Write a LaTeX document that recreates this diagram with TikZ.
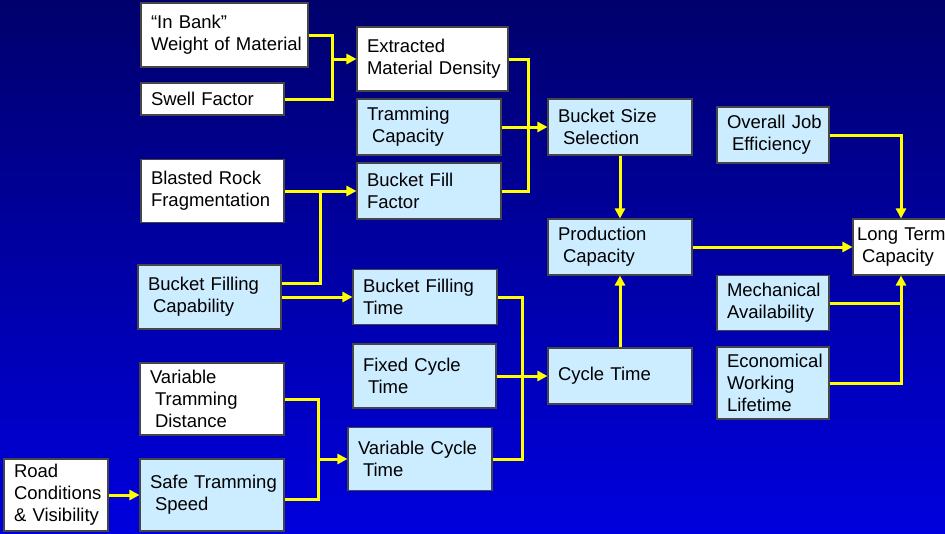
\documentclass[tikz,border=0pt]{standalone}
\usepackage{fontspec}
\setmainfont{Liberation Sans}
\usepackage{xcolor}
\usetikzlibrary{arrows.meta}

\definecolor{bgtop}{RGB}{0,0,108}
\definecolor{bgbottom}{RGB}{0,0,222}
\definecolor{paleblue}{RGB}{204,236,255}
\definecolor{linkyellow}{RGB}{255,255,0}
\definecolor{boxline}{RGB}{70,70,70}
\newcommand{\indt}{\hspace*{5pt}}
\hyphenpenalty=10000
\exhyphenpenalty=10000

\begin{document}
\begin{tikzpicture}[x=1pt, y=-1pt, >={Triangle[length=10pt,width=10pt]},
    box/.style={draw=boxline, line width=1.1pt, rectangle, inner xsep=10pt, inner ysep=0pt, align=left, font=\fontsize{18.5}{22}\selectfont},
    given/.style={box, fill=white},
    factor/.style={box, fill=paleblue},
    link/.style={draw=linkyellow, line width=3pt}]

    % Background
    \useasboundingbox (0,0) rectangle (945,533);
    \shade[top color=bgtop, bottom color=bgbottom] (0,0) rectangle (945,533);

    % Nodes
    \node [given, text width=147pt, minimum height=64pt] (inbank) at (224.5,35) {“In~Bank”\\Weight~of~Material};
    \node [given, text width=123pt, minimum height=32pt] (swell) at (212.5,99) {Swell~Factor};
    \node [given, text width=131pt, minimum height=64pt] (density) at (432.5,59) {Extracted\\Material~Density};
    \node [factor, text width=124pt, minimum height=56pt] (tramcap) at (429,127) {Tramming\\\indt Capacity};
    \node [factor, text width=124pt, minimum height=56pt] (fillfactor) at (429,191) {Bucket~Fill\\Factor};
    \node [given, text width=123pt, minimum height=63pt] (blasted) at (212.5,191) {Blasted~Rock\\Fragmentation};

    \node [factor, text width=123pt, minimum height=64pt] (fillcap) at (209.5,297) {Bucket~Filling\\\indt Capability};
    \node [factor, text width=124pt, minimum height=55pt] (filltime) at (425,297) {Bucket~Filling\\Time};
    \node [factor, text width=123pt, minimum height=64pt] (fixed) at (424.5,376) {Fixed~Cycle\\\indt Time};
    \node [given, text width=124pt, minimum height=72pt] (vardist) at (212,399) {Variable\\\indt Tramming\\\indt Distance};
    \node [factor, text width=124pt, minimum height=63pt] (varcycle) at (420,459) {Variable~Cycle\\\indt Time};
    \node [given, text width=84pt, minimum height=72pt] (road) at (56,495) {Road\\Conditions\\\&~Visibility};
    \node [factor, text width=124pt, minimum height=72pt] (speed) at (212,495) {Safe~Tramming\\\indt Speed};

    \node [factor, text width=124pt, minimum height=56pt] (sizesel) at (620,127) {Bucket~Size\\\indt Selection};
    \node [factor, text width=124pt, minimum height=56pt] (prodcap) at (620,247) {Production\\\indt Capacity};
    \node [factor, text width=124pt, minimum height=56pt] (cycle) at (620,376) {Cycle~Time};

    \node [factor, text width=92pt, minimum height=56pt] (jobeff) at (773,135) {Overall~Job\\\indt Efficiency};
    \node [given, inner xsep=4pt, text width=88pt, minimum height=56pt] (longterm) at (901,247) {Long~Term\\\indt Capacity};
    \node [factor, text width=92pt, minimum height=55pt] (mechavail) at (773,303) {Mechanical\\Availability};
    \node [factor, text width=92pt, minimum height=72pt] (econ) at (773,383) {Economical\\Working\\Lifetime};

    % Junctions
    \coordinate (jdens) at (332,59);
    \coordinate (jsize) at (528,127);
    \coordinate (jrock) at (320,191);
    \coordinate (jcycle) at (522,376);
    \coordinate (jvar) at (318,459);
    \coordinate (jlife) at (901,303);

    % Arrows
    \draw [link] (inbank.east) -| (jdens);
    \draw [link] (swell.east) -| (jdens);
    \draw [link, ->] (jdens) -- (density.west);

    \draw [link] (density.east) -| (jsize);
    \draw [link] (fillfactor.east) -| (jsize);
    \draw [link, ->] (tramcap.east) -- (sizesel.west);

    \draw [link, ->] (blasted.east) -- (fillfactor.west);
    \draw [link] ([yshift=14pt]fillcap.east) -| (jrock);
    \draw [link, ->] (fillcap.east) -- (filltime.west);

    \draw [link] (filltime.east) -| (jcycle);
    \draw [link] (varcycle.east) -| (jcycle);
    \draw [link, ->] (fixed.east) -- (cycle.west);

    \draw [link] (vardist.east) -| (jvar);
    \draw [link] ([yshift=-4pt]speed.east) -| (jvar);
    \draw [link, ->] (jvar) -- (varcycle.west);
    \draw [link, ->] (road.east) -- (speed.west);

    \draw [link, ->] (sizesel) -- (prodcap);
    \draw [link, ->] (cycle) -- (prodcap);
    \draw [link, ->] (prodcap) -- (longterm);

    % Long term inputs
    \draw [link, ->] (jobeff.east) -| (longterm.north);
    \draw [link] (mechavail.east) -- (jlife);
    \draw [link] (econ.east) -| (jlife);
    \draw [link, ->] (jlife) -- (longterm.south);

\end{tikzpicture}
\end{document}
